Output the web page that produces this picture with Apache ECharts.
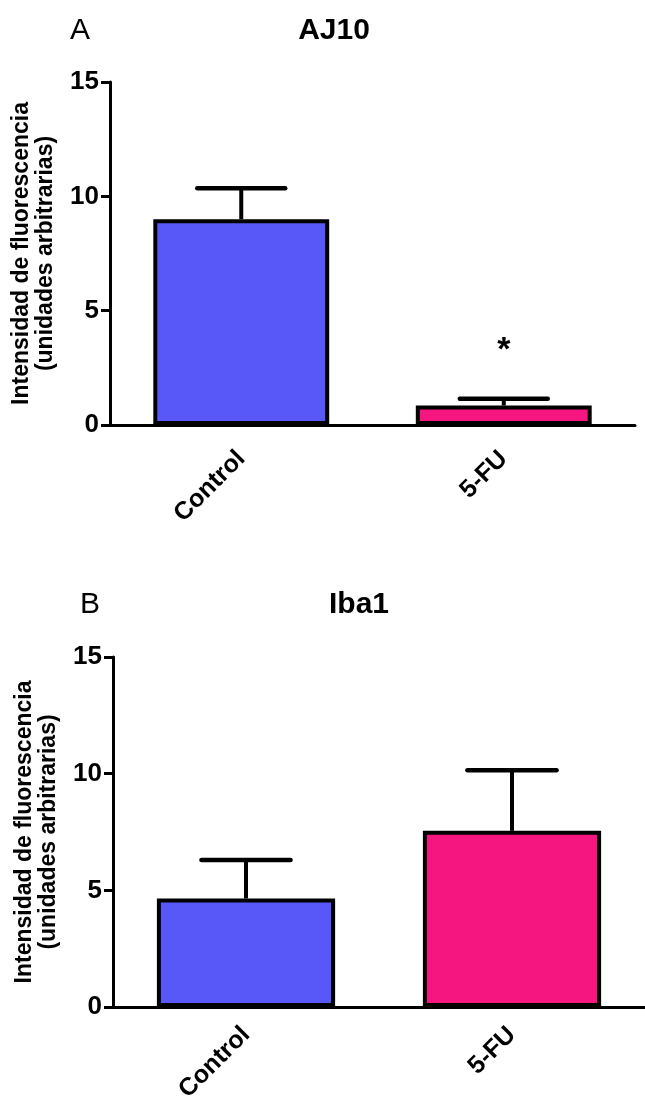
<!DOCTYPE html>
<html>
<head>
<meta charset="utf-8">
<script src="https://cdn.jsdelivr.net/npm/echarts@6/dist/echarts.min.js"></script>
<style>
html,body{margin:0;padding:0;background:#fff;}
#chart{width:645px;height:1108px;}
</style>
</head>
<body>
<div id="chart"></div>
<script>
// ---- data ----
const categories = ['Control', '5-FU'];
const ajMeans = [9.0, 0.85];
const ajErrTop = [10.35, 1.15];
const ajSig = ['', '*'];
const ibaMeans = [4.65, 7.55];
const ibaErrTop = [6.3, 10.15];
const ibaSig = ['', ''];
const barColors = ['#5858F9', '#F6167F'];
const yMin = 0, yMax = 15, yInterval = 5;
const yTitle = 'Intensidad de fluorescencia\n(unidades arbitrarias)';

const chart = echarts.init(document.getElementById('chart'), null, {renderer: 'canvas'});
const FONT = 'Liberation Sans, Arial, sans-serif';

function xAxisCfg(gridIndex, margin) {
  return {
    type: 'category', gridIndex, data: categories,
    axisLine: {lineStyle: {color: '#000', width: 3}},
    axisTick: {alignWithLabel: true, length: 9, lineStyle: {color: '#000', width: 3}},
    axisLabel: {rotate: 45, margin: margin, color: '#000', fontSize: 25, fontWeight: 'bold', fontFamily: FONT},
    splitLine: {show: false}
  };
}
function yAxisCfg(gridIndex) {
  return {
    type: 'value', gridIndex, min: yMin, max: yMax, interval: yInterval,
    name: yTitle, nameLocation: 'middle', nameGap: 52, nameRotate: 90,
    nameTextStyle: {color: '#000', fontSize: 23, fontWeight: 'bold', fontFamily: FONT, lineHeight: 24},
    axisLine: {show: true, lineStyle: {color: '#000', width: 3}},
    axisTick: {show: true, length: 9, lineStyle: {color: '#000', width: 3}},
    axisLabel: {margin: 11, color: '#000', fontSize: 26, fontWeight: 'bold', fontFamily: FONT},
    splitLine: {show: false}
  };
}
function barSeries(idx, means) {
  return {
    type: 'bar', xAxisIndex: idx, yAxisIndex: idx, barWidth: '67%',
    data: means.map((v, i) => ({value: v, itemStyle: {color: barColors[i]}})),
    itemStyle: {borderColor: '#000', borderWidth: 4},
    z: 2
  };
}
function errSeries(idx, means, tops, sig) {
  return {
    type: 'custom', xAxisIndex: idx, yAxisIndex: idx, z: 3,
    data: means.map((m, i) => [i, m, tops[i]]),
    renderItem: function (params, api) {
      const i = api.value(0);
      const base = api.coord([i, api.value(1)]);
      const top = api.coord([i, api.value(2)]);
      const bw = api.size([1, 0])[0] * 0.67;
      const half = bw / 4;
      const children = [
        {type: 'line', shape: {x1: top[0], y1: base[1], x2: top[0], y2: top[1]}, style: {stroke: '#000', lineWidth: 4}},
        {type: 'line', shape: {x1: top[0] - half, y1: top[1], x2: top[0] + half, y2: top[1]}, style: {stroke: '#000', lineWidth: 4.5, lineCap: 'round'}}
      ];
      if (sig[i]) {
        children.push({type: 'text', x: top[0], y: top[1] - 48, style: {text: sig[i], fill: '#000', fontSize: 34, fontWeight: 'bold', fontFamily: FONT, align: 'center', verticalAlign: 'middle'}});
      }
      return {type: 'group', children};
    }
  };
}

chart.setOption({
  animation: false,
  backgroundColor: '#fff',
  title: [
    {text: 'A', left: 65, top: 11, textStyle: {fontSize: 30, fontWeight: 'normal', color: '#000', fontFamily: FONT}},
    {text: 'AJ10', left: 329, top: 11, textAlign: 'center', textStyle: {fontSize: 30, fontWeight: 'bold', color: '#000', fontFamily: FONT}},
    {text: 'B', left: 75, top: 585, textStyle: {fontSize: 30, fontWeight: 'normal', color: '#000', fontFamily: FONT}},
    {text: 'Iba1', left: 354, top: 585, textAlign: 'center', textStyle: {fontSize: 30, fontWeight: 'bold', color: '#000', fontFamily: FONT}}
  ],
  grid: [
    {left: 110, top: 82, width: 525, height: 343},
    {left: 113, top: 657, width: 534, height: 350}
  ],
  xAxis: [xAxisCfg(0, 30), xAxisCfg(1, 24)],
  yAxis: [yAxisCfg(0), yAxisCfg(1)],
  series: [
    barSeries(0, ajMeans), errSeries(0, ajMeans, ajErrTop, ajSig),
    barSeries(1, ibaMeans), errSeries(1, ibaMeans, ibaErrTop, ibaSig)
  ]
});
</script>
</body>
</html>
